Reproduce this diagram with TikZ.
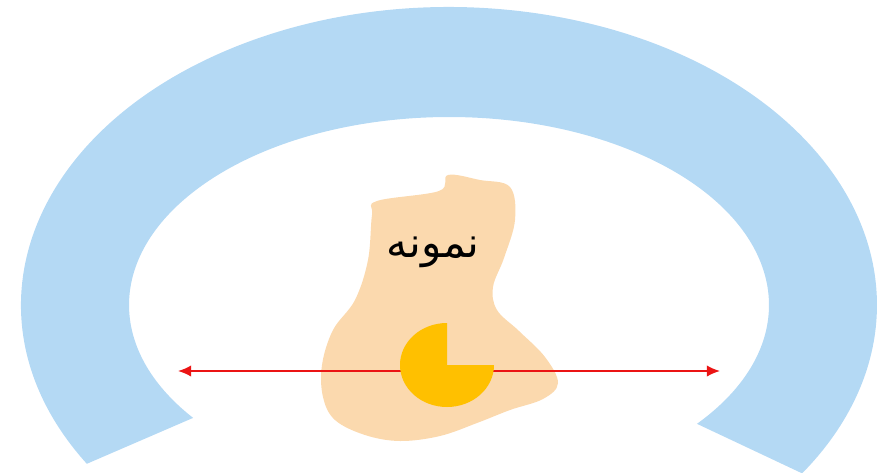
\documentclass[tikz,border=0pt]{standalone}
\usepackage{fontspec}
\usepackage{xcolor}
\usepackage{tikz}
\usetikzlibrary{arrows.meta}
\TeXXeTstate=1
\newfontfamily\arabicfont[Script=Arabic]{DejaVu Sans}
\definecolor{figring}{RGB}{180,217,244}
\definecolor{figblob}{RGB}{251,217,174}
\definecolor{figpie}{RGB}{255,192,0}
\definecolor{figarrow}{RGB}{235,20,20}
\tikzset{
  ring/.style  ={fill=figring, draw=none},
  blob/.style  ={fill=figblob, draw=none},
  pie/.style   ={fill=figpie, draw=none},
  lab/.style   ={font=\fontsize{24}{28}\selectfont\arabicfont, inner sep=1pt},
  span/.style  ={draw=figarrow, line width=1.1pt, {Latex[length=7.5pt,width=6.5pt]}-{Latex[length=7.5pt,width=6.5pt]}},
}
\begin{document}
\begin{tikzpicture}[scale=0.02]
  \useasboundingbox (-449,-167) rectangle (428,305);
  % arch
  \fill[ring] (212.2:428 and 298)
    arc[start angle=212.2, end angle=-34.4, x radius=428, y radius=298]
    -- (-39.2:320 and 188)
    arc[start angle=-39.2, end angle=216.9, x radius=320, y radius=188]
    -- cycle;
  % sample
  \fill[blob] plot[smooth cycle, tension=0.6] coordinates {
    (-1,130) (-10,114) (-72,104) (-77,90) (-81,45) (-94,5)
    (-116,-25) (-127,-60) (-126,-92) (-114,-115) (-84,-130) (-49,-136)
    (-9,-131) (28,-118) (61,-105) (94,-94) (109,-78) (96,-52) (70,-26)
    (48,-5) (44,18) (55,47) (66,85) (61,118) (31,125)};
  \coordinate (spanL) at (-271,-66);
  \coordinate (spanR) at (271,-66);
  \draw[span] (spanL) -- (spanR);
  % piece
  \fill[pie] (-2,-60) -- ++(0,42)
    arc[start angle=90, end angle=360, x radius=47, y radius=42] -- cycle;
  \node[lab] (sample) at (-16,53) {\beginR نمونه\endR};
\end{tikzpicture}
\end{document}
